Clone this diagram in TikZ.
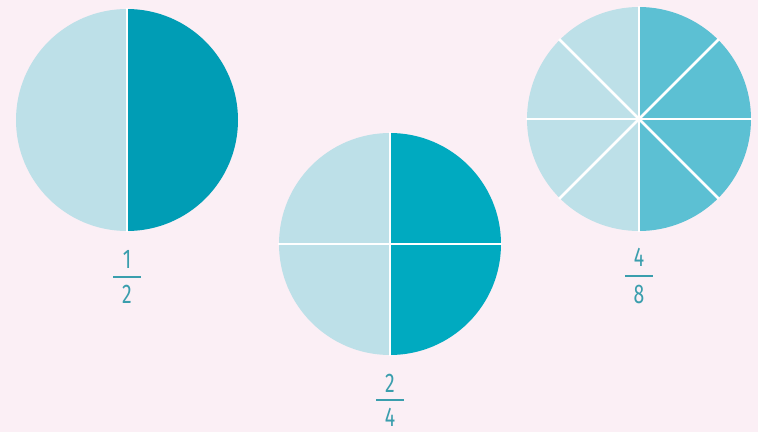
\documentclass[tikz,border=0pt]{standalone}
\usepackage{fontspec}
\newfontfamily\fracfont[FakeStretch=0.72]{Fira Sans}
\usetikzlibrary{calc}

\definecolor{bgpink}{HTML}{FBEFF5}
\definecolor{lightpart}{HTML}{BDE0E8}
\definecolor{halfdark}{HTML}{009DB5}
\definecolor{quartdark}{HTML}{00AAC0}
\definecolor{eighthdark}{HTML}{5CC0D3}
\definecolor{labelcol}{HTML}{3A9EAD}

\tikzset{
    frac/.style={font=\fracfont\fontsize{27}{27}\selectfont, text=labelcol, inner sep=0pt},
    fracbar/.style={draw=labelcol, line width=2pt},
    divider/.style={draw=white, line width=2.6pt}
}

\begin{document}
\begin{tikzpicture}[x=1pt,y=-1pt]
            \fill[bgpink] (0,0) rectangle (758,432);
            \useasboundingbox (0,0) rectangle (758,432);

            % one half
            \coordinate (c1) at (127,120);
            \fill[lightpart] (c1) -- +(90:111) arc[start angle=90,end angle=270,radius=111] -- cycle;
            \fill[halfdark]  (c1) -- +(270:111) arc[start angle=270,end angle=450,radius=111] -- cycle;
            \draw[divider] ($(c1)+(0,-112)$) -- ($(c1)+(0,112)$);

            % two quarters
            \coordinate (c2) at (390,244);
            \foreach \a/\col in {0/quartdark,90/lightpart,180/lightpart,270/quartdark} {
                \fill[\col] (c2) -- +(\a:111) arc[start angle=\a,end angle=\a+90,radius=111] -- cycle;
            }
            \draw[divider] ($(c2)+(0,-112)$) -- ($(c2)+(0,112)$);
            \draw[divider] ($(c2)+(-112,0)$) -- ($(c2)+(112,0)$);

            % four eighths
            \coordinate (c3) at (639,119);
            \foreach \a/\col in {0/eighthdark,45/eighthdark,90/lightpart,135/lightpart,
                                 180/lightpart,225/lightpart,270/eighthdark,315/eighthdark} {
                \fill[\col] (c3) -- +(\a:112) arc[start angle=\a,end angle=\a+45,radius=112] -- cycle;
            }
            \foreach \a in {0,45,90,135} {
                \draw[divider] ($(c3)+(\a:113)$) -- ($(c3)+(\a+180:113)$);
            }

            % labels
            \node[frac] (n1) at (127,259) {1};
            \node[frac] (d1) at (127,294.5) {2};
            \draw[fracbar] ($(n1.center)!0.5!(d1.center)+(-14,0)$) -- ++(28,0);

            \node[frac] (n2) at (390,383) {2};
            \node[frac] (d2) at (390,417.5) {4};
            \draw[fracbar] ($(n2.center)!0.5!(d2.center)+(-14,0)$) -- ++(28,0);

            \node[frac] (n3) at (639,257) {4};
            \node[frac] (d3) at (639,294) {8};
            \draw[fracbar] ($(n3.center)!0.5!(d3.center)+(-14,0)$) -- ++(28,0);
        \end{tikzpicture}
\end{document}
